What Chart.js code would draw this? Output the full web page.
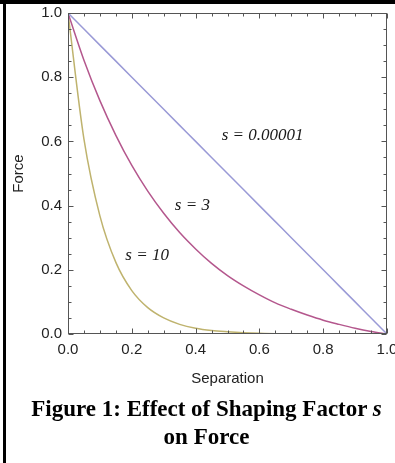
<!DOCTYPE html>
<html>
<head>
<meta charset="utf-8">
<script src="https://cdn.jsdelivr.net/npm/chart.js@4.4.0/dist/chart.umd.min.js"></script>
<style>
  html, body { margin: 0; padding: 0; background: #fff; }
  #wrap { position: relative; width: 395px; height: 463px; overflow: hidden; }
  #chart-box { position: absolute; left: 0; top: 0; width: 395px; height: 400px; }
  .edge-top { position: absolute; left: 0; top: 0; width: 395px; height: 4px; background: #000; }
  .edge-left { position: absolute; left: 3px; top: 0; width: 3px; height: 463px; background: #000; }
  #caption {
    position: absolute; left: 18px; top: 395px; width: 377px;
    text-align: center; color: #000;
    font: bold 23px "Liberation Serif", "Times New Roman", serif; line-height: 28px;
  }
</style>
</head>
<body>
<div id="wrap">
  <div id="chart-box"><canvas id="force-chart"></canvas></div>
  <div class="edge-top"></div>
  <div class="edge-left"></div>
  <div id="caption">Figure 1: Effect of Shaping Factor <i>s</i><br>on Force</div>
</div>
<script>
// separation values (x)
const separation = [0, 0.05, 0.1, 0.15, 0.2, 0.25, 0.3, 0.35, 0.4, 0.45, 0.5,
                    0.55, 0.6, 0.65, 0.7, 0.75, 0.8, 0.85, 0.9, 0.95, 1.0];

// force
const forceTiny = [1.0, 0.95, 0.9, 0.85, 0.8, 0.75, 0.7, 0.65, 0.6, 0.55, 0.5,
                   0.45, 0.4, 0.35, 0.3, 0.25, 0.2, 0.15, 0.1, 0.05, 0.0];
const forceS3 = [1.0, 0.853, 0.727, 0.619, 0.525, 0.445, 0.376, 0.316, 0.265, 0.220, 0.182,
                 0.150, 0.122, 0.097, 0.077, 0.059, 0.043, 0.030, 0.018, 0.008, 0.0];
const forceS10 = [1.0, 0.607, 0.368, 0.223, 0.135, 0.082, 0.050, 0.030, 0.018, 0.011, 0.007,
                  0.004, 0.002, 0.001, 0.001, 0.0, 0.0, 0.0, 0.0, 0.0, 0.0];

const seriesNames = ['s = 0.00001', 's = 3', 's = 10'];
const tickValues = [0, 0.2, 0.4, 0.6, 0.8, 1.0];

const colors = ['#9a9ad6', '#b4578d', '#bfb36e'];
// where the curve names sit, in data units
const labelSpots = [[0.61, 0.617], [0.39, 0.40], [0.248, 0.246]];

const toPoints = ys => ys.map((v, i) => ({x: separation[i], y: v}));

// mathematica style frame with inward ticks on all sides
const framePlugin = {
    id: 'frame',
    afterDatasetsDraw(chart) {
        const {ctx, chartArea: a, scales: {x, y}} = chart;
        const L = Math.round(a.left) + 0.5, R = Math.round(a.right) - 0.5;
        const T = Math.round(a.top) + 0.5, B = Math.round(a.bottom) - 0.5;
        ctx.save();
        ctx.strokeStyle = '#555';
        ctx.lineWidth = 1;
        ctx.strokeRect(L, T, R - L, B - T);
        ctx.beginPath();
        for (let k = 0; k <= 20; k++) {
            const v = k / 20;
            const len = k % 4 === 0 ? 5 : 3;
            const px = Math.round(x.getPixelForValue(v)) + 0.5;
            const py = Math.round(y.getPixelForValue(v)) + 0.5;
            ctx.moveTo(px, B); ctx.lineTo(px, B - len);
            ctx.moveTo(px, T); ctx.lineTo(px, T + len);
            ctx.moveTo(L, py); ctx.lineTo(L + len, py);
            ctx.moveTo(R, py); ctx.lineTo(R - len, py);
        }
        ctx.stroke();

        ctx.fillStyle = '#1a1a1a';
        ctx.font = 'italic 17px "Liberation Serif", "Times New Roman", serif';
        ctx.textAlign = 'center';
        ctx.textBaseline = 'middle';
        seriesNames.forEach((name, i) => {
            const [lx, ly] = labelSpots[i];
            ctx.fillText(name, x.getPixelForValue(lx), y.getPixelForValue(ly));
        });
        ctx.restore();
    }
};

const tickFont = {family: '"Liberation Sans", Arial, sans-serif', size: 15};

new Chart(document.getElementById('force-chart'), {
    type: 'line',
    data: {
        datasets: [forceTiny, forceS3, forceS10].map((d, i) => ({
            label: seriesNames[i],
            data: toPoints(d),
            borderColor: colors[i],
            borderWidth: 1.5,
            pointRadius: 0,
            fill: false,
            cubicInterpolationMode: 'monotone'
        }))
    },
    options: {
        responsive: true,
        maintainAspectRatio: false,
        animation: false,
        events: [],
        layout: {padding: {left: 0, top: 13, right: 8, bottom: 6}},
        plugins: {legend: {display: false}, tooltip: {enabled: false}},
        scales: {
            x: {
                type: 'linear', min: 0, max: 1,
                afterBuildTicks: s => { s.ticks = tickValues.map(v => ({value: v})); },
                afterFit: s => { s.height = 60; s.paddingLeft = 0; s.paddingRight = 0; },
                grid: {display: false, drawTicks: false},
                border: {display: false},
                ticks: {padding: 7, color: '#222', font: tickFont, maxRotation: 0,
                        autoSkip: false, callback: v => v.toFixed(1)},
                title: {display: true, text: 'Separation', color: '#222', font: tickFont,
                        padding: {top: 0, bottom: 6}}
            },
            y: {
                type: 'linear', min: 0, max: 1,
                afterBuildTicks: s => { s.ticks = tickValues.map(v => ({value: v})); },
                afterFit: s => { s.width = 68; s.paddingTop = 0; s.paddingBottom = 0; },
                grid: {display: false, drawTicks: false},
                border: {display: false},
                ticks: {padding: 6, color: '#222', font: tickFont, autoSkip: false,
                        callback: v => v.toFixed(1)},
                title: {display: true, text: 'Force', color: '#222', font: tickFont,
                        padding: {top: 10, bottom: 0}}
            }
        }
    },
    plugins: [framePlugin]
});
</script>
</body>
</html>
